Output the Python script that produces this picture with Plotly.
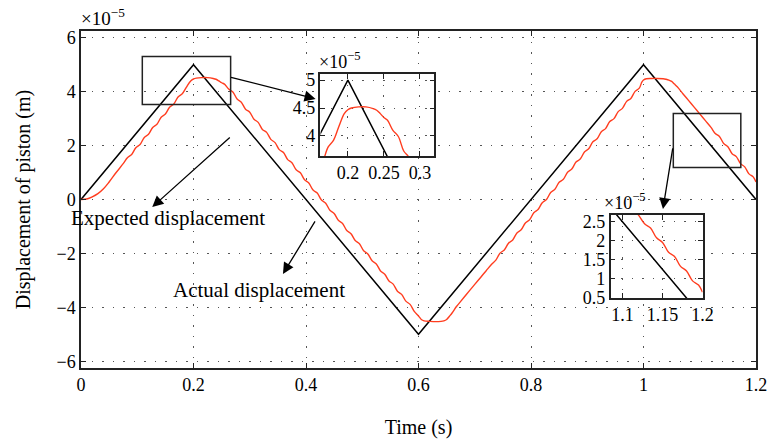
import plotly.graph_objects as go

# ---------------- data (displacement in units of 1e-5 m) ----------------
expected_t = [0.0, 0.2, 0.6, 1.0, 1.2]
expected_y = [0.0, 5.0, -5.0, 5.0, 0.0]

actual_t = [
    0.0, 0.01, 0.02, 0.03, 0.04, 0.05, 0.0625, 0.075, 0.0825, 0.09, 0.0975,
    0.105, 0.1125, 0.12, 0.1275, 0.135, 0.1425, 0.15, 0.1575, 0.165, 0.1725,
    0.18, 0.1875, 0.195, 0.2, 0.205, 0.215, 0.225, 0.235, 0.24, 0.245, 0.25,
    0.255, 0.2625, 0.27, 0.2775, 0.285, 0.2925, 0.30, 0.3075, 0.315, 0.3225,
    0.33, 0.3375, 0.345, 0.3525, 0.36, 0.3675, 0.375, 0.3825, 0.39, 0.3975,
    0.405, 0.4125, 0.42, 0.4275, 0.435, 0.4425, 0.45, 0.4575, 0.465, 0.4725,
    0.48, 0.4875, 0.495, 0.5025, 0.51, 0.5175, 0.525, 0.5325, 0.54, 0.5475,
    0.555, 0.5625, 0.57, 0.5775, 0.585, 0.5925, 0.60, 0.605, 0.61, 0.62,
    0.63, 0.64, 0.645, 0.65, 0.655, 0.66, 0.6675, 0.675, 0.6825, 0.69, 0.70,
    0.71, 0.72, 0.73, 0.7375, 0.745, 0.7525, 0.76, 0.7675, 0.775, 0.7825,
    0.79, 0.7975, 0.805, 0.8125, 0.82, 0.8275, 0.835, 0.8425, 0.85, 0.8575,
    0.865, 0.8725, 0.88, 0.8875, 0.895, 0.9025, 0.91, 0.9175, 0.925, 0.9325,
    0.94, 0.9475, 0.955, 0.9625, 0.97, 0.9775, 0.985, 0.9925, 0.997, 1.0,
    1.005, 1.015, 1.025, 1.035, 1.04, 1.045, 1.05, 1.055, 1.06, 1.07, 1.08,
    1.09, 1.10, 1.11, 1.12, 1.1275, 1.135, 1.1425, 1.15, 1.1575, 1.165,
    1.1725, 1.18, 1.1875, 1.195, 1.2,
]
actual_y = [
    0.0, 0.02, 0.10, 0.22, 0.40, 0.65, 1.00, 1.33, 1.55, 1.67, 1.92,
    2.04, 2.30, 2.42, 2.67, 2.79, 3.05, 3.17, 3.42, 3.54, 3.80,
    3.92, 4.17, 4.40, 4.47, 4.50, 4.52, 4.52, 4.49, 4.46, 4.40, 4.33,
    4.28, 4.10, 3.99, 3.73, 3.61, 3.35, 3.24, 2.98, 2.86, 2.60,
    2.49, 2.23, 2.11, 1.85, 1.74, 1.48, 1.36, 1.10, 0.99, 0.73,
    0.61, 0.35, 0.24, -0.02, -0.14, -0.40, -0.52, -0.77, -0.89, -1.15,
    -1.27, -1.52, -1.64, -1.90, -2.02, -2.27, -2.39, -2.65, -2.77, -3.02,
    -3.14, -3.40, -3.52, -3.77, -3.89, -4.15, -4.32, -4.45, -4.50, -4.52,
    -4.53, -4.52, -4.50, -4.45, -4.33, -4.20, -3.97, -3.78, -3.59, -3.40, -3.15,
    -2.90, -2.65, -2.40, -2.25, -1.99, -1.87, -1.62, -1.50, -1.24, -1.12,
    -0.87, -0.75, -0.49, -0.37, -0.12, 0.00, 0.26, 0.38, 0.64, 0.75,
    1.01, 1.13, 1.39, 1.50, 1.76, 1.88, 2.14, 2.25, 2.51, 2.63,
    2.89, 3.00, 3.26, 3.38, 3.64, 3.75, 4.01, 4.13, 4.35, 4.43,
    4.48, 4.49, 4.49, 4.48, 4.46, 4.43, 4.38, 4.28, 4.18, 3.925, 3.675,
    3.425, 3.175, 2.925, 2.675, 2.45, 2.34, 2.08, 1.96, 1.70, 1.59,
    1.33, 1.21, 0.95, 0.84, 0.65,
]

main_xticks = [0, 0.2, 0.4, 0.6, 0.8, 1.0, 1.2]
main_yticks = [-6, -4, -2, 0, 2, 4, 6]
inset1_xticks = [0.2, 0.25, 0.3]
inset1_yticks = [4, 4.5, 5]
inset2_xticks = [1.1, 1.15, 1.2]
inset2_yticks = [0.5, 1, 1.5, 2, 2.5]

# zoom-window rectangles in the main plot [x0, x1, y0, y1]
zoom_box1 = [0.109, 0.266, 3.52, 5.3]
zoom_box2 = [1.053, 1.173, 1.19, 3.19]

RED = "#ff3d1f"
FONT = "Liberation Serif"
GRID = "#555555"
AX = "#222222"

fig = go.Figure()
for xa, ya in [("x", "y"), ("x2", "y2"), ("x3", "y3")]:
    fig.add_trace(go.Scatter(x=expected_t, y=expected_y, mode="lines",
                             line=dict(color="black", width=1.5),
                             xaxis=xa, yaxis=ya, showlegend=False))
    fig.add_trace(go.Scatter(x=actual_t, y=actual_y, mode="lines",
                             line=dict(color=RED, width=1.4, shape="spline", smoothing=1.0),
                             xaxis=xa, yaxis=ya, showlegend=False))

common = dict(showline=True, linecolor=AX, linewidth=1.5, mirror="ticks",
              ticks="inside", ticklen=5, tickcolor=AX, tickwidth=1,
              showgrid=True, gridcolor=GRID, griddash="1.5px,9px", gridwidth=1.2,
              zeroline=False, tickfont=dict(family=FONT, size=18, color="black"))

fig.update_layout(
    width=779, height=443,
    margin=dict(l=81, r=16, t=31, b=75),
    paper_bgcolor="white", plot_bgcolor="white",
    font=dict(family=FONT, size=18, color="black"),
    xaxis=dict(domain=[0, 1], range=[0, 1.2], tickvals=main_xticks,
               title=dict(text="Time (s)", font=dict(family=FONT, size=20), standoff=26),
               automargin=False, **common),
    yaxis=dict(domain=[0, 1], range=[-6.25, 6.25], tickvals=main_yticks,
               title=dict(text="Displacement of piston (m)", font=dict(family=FONT, size=20), standoff=20),
               automargin=False, **common),
    xaxis2=dict(domain=[0.3548, 0.5235], range=[0.162, 0.32], tickvals=inset1_xticks,
                anchor="y2", **common),
    yaxis2=dict(domain=[0.629, 0.8724], range=[3.64, 5.11], tickvals=inset1_yticks,
                anchor="x2", **common),
    xaxis3=dict(domain=[0.7845, 0.9208], range=[1.085, 1.2], tickvals=inset2_xticks,
                anchor="y3", **common),
    yaxis3=dict(domain=[0.2077, 0.454], range=[0.5, 2.68], tickvals=inset2_yticks,
                anchor="x3", **common),
)

for b in (zoom_box1, zoom_box2):
    fig.add_shape(type="rect", xref="x", yref="y", x0=b[0], x1=b[1], y0=b[2], y1=b[3],
                  line=dict(color=AX, width=1.5), fillcolor="rgba(0,0,0,0)")

def arrow(x, y, ax, ay):
    fig.add_annotation(x=x, y=y, xref="x", yref="y", ax=ax, ay=ay, text="",
                       showarrow=True, arrowhead=2, arrowsize=1.7, arrowwidth=1.3,
                       arrowcolor="black")

arrow(0.417, 3.73, -86, -22)
arrow(1.0346, -0.35, 10, -62)
arrow(0.1267, -0.28, 79, -71)
arrow(0.359, -2.76, 33, -54)

fig.add_annotation(x=0.155, y=-0.69, xref="x", yref="y", text="Expected displacement",
                   showarrow=False, font=dict(family=FONT, size=21))
fig.add_annotation(x=0.317, y=-3.36, xref="x", yref="y", text="Actual displacement",
                   showarrow=False, font=dict(family=FONT, size=21))

def expo(x, y, size):
    fig.add_annotation(x=x, y=y, xref="paper", yref="paper", xanchor="left", yanchor="bottom",
                       text="×10<sup>−5</sup>", showarrow=False,
                       font=dict(family=FONT, size=size))

expo(-0.003, 1.0, 19)
expo(0.3548 - 0.005, 0.8724, 18)
expo(0.7845 - 0.012, 0.454, 18)

fig.write_html("out.html")
